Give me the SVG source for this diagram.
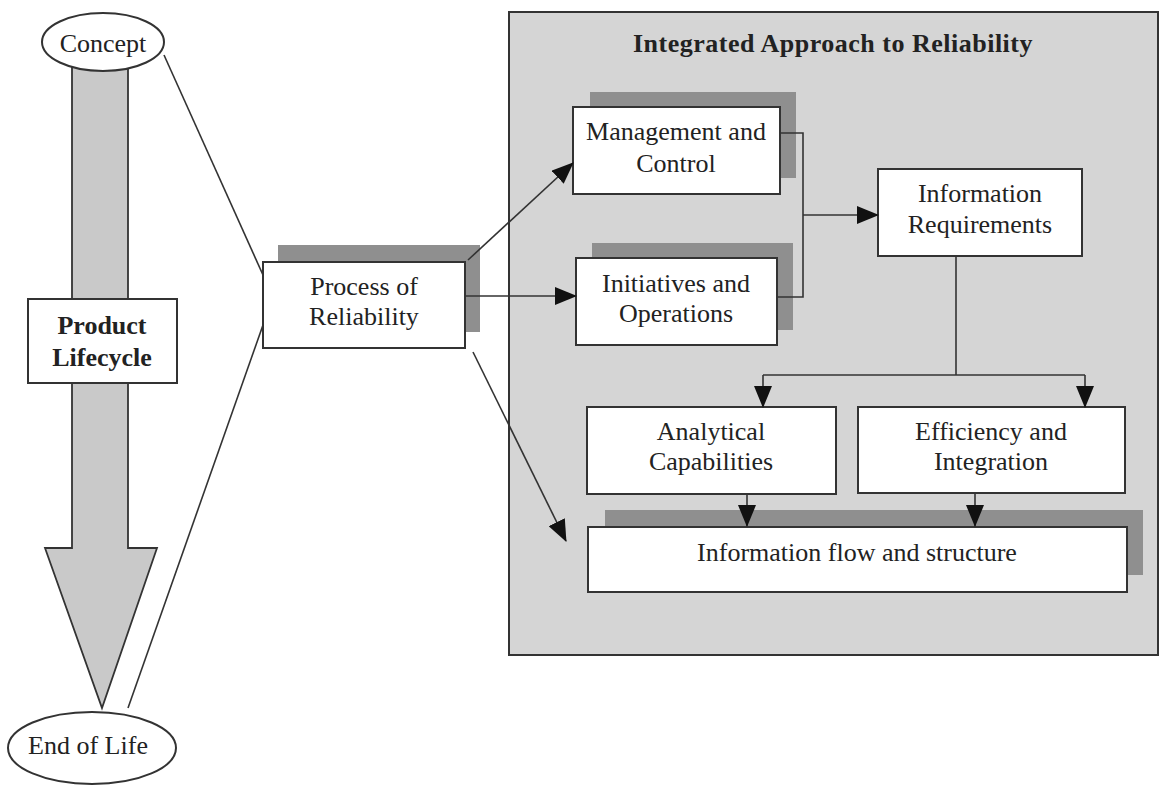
<svg xmlns="http://www.w3.org/2000/svg" width="1162" height="785" viewBox="0 0 1162 785">
<defs>
<style>
.t{font-family:"Liberation Serif","Times New Roman",serif;font-size:26px;fill:#222;text-anchor:middle}
.b{font-weight:bold}
.box{fill:#fff;stroke:#333;stroke-width:2}
.sh{fill:#8f8f8f}
.ln{fill:none;stroke:#333;stroke-width:1.6}
</style>
<marker id="ah" markerUnits="userSpaceOnUse" markerWidth="22" markerHeight="18" refX="21" refY="9" orient="auto">
<path d="M0,0 L22,9 L0,18 Z" fill="#111"/>
</marker>
</defs>
<rect width="1162" height="785" fill="#fff"/>

<g id="lifecycle-arrow">
<polygon points="72,60 128,60 128,548 157,548 102,708 45,548 72,548" fill="#c9c9c9" stroke="#333" stroke-width="1.8"/>
</g>
<g id="concept">
<ellipse cx="103" cy="42" rx="61" ry="29" class="box"/>
<text class="t" x="103" y="52">Concept</text>
</g>
<g id="end-of-life">
<ellipse cx="92" cy="748" rx="84" ry="36" class="box"/>
<text class="t" x="88" y="754">End of Life</text>
</g>
<g id="product-lifecycle">
<rect x="28" y="299" width="149" height="84" class="box"/>
<text class="t b" x="102" y="334">Product</text>
<text class="t b" x="102" y="366">Lifecycle</text>
</g>

<g id="integrated-approach">
<rect x="509" y="12" width="649" height="643" fill="#d5d5d5" stroke="#333" stroke-width="2"/>
<text class="t b" x="833" y="52" letter-spacing="0.5">Integrated Approach to Reliability</text>
</g>

<g id="process">
<rect x="278" y="245" width="202" height="87" class="sh"/>
<rect x="263" y="262" width="202" height="86" class="box"/>
<text class="t" x="364" y="295">Process of</text>
<text class="t" x="364" y="325">Reliability</text>
</g>
<g id="management">
<rect x="590" y="92" width="206" height="86" class="sh"/>
<rect x="573" y="107" width="207" height="87" class="box"/>
<text class="t" x="676" y="140">Management and</text>
<text class="t" x="676" y="172">Control</text>
</g>
<g id="initiatives">
<rect x="592" y="243" width="201" height="87" class="sh"/>
<rect x="576" y="258" width="201" height="87" class="box"/>
<text class="t" x="676" y="292">Initiatives and</text>
<text class="t" x="676" y="322">Operations</text>
</g>
<g id="info-req">
<rect x="878" y="169" width="204" height="87" class="box"/>
<text class="t" x="980" y="202">Information</text>
<text class="t" x="980" y="233">Requirements</text>
</g>
<g id="analytical">
<rect x="587" y="407" width="249" height="87" class="box"/>
<text class="t" x="711" y="440">Analytical</text>
<text class="t" x="711" y="470">Capabilities</text>
</g>
<g id="efficiency">
<rect x="858" y="407" width="267" height="86" class="box"/>
<text class="t" x="991" y="440">Efficiency and</text>
<text class="t" x="991" y="470">Integration</text>
</g>
<g id="info-flow">
<rect x="605" y="510" width="538" height="65" class="sh"/>
<rect x="588" y="527" width="539" height="65" class="box"/>
<text class="t" x="857" y="561">Information flow and structure</text>
</g>

<g id="connectors">
<line x1="164" y1="55" x2="263" y2="275" class="ln"/>
<line x1="128" y1="708" x2="263" y2="325" class="ln"/>
<line x1="468" y1="260" x2="573" y2="163" class="ln" marker-end="url(#ah)"/>
<line x1="465" y1="296" x2="576" y2="296" class="ln" marker-end="url(#ah)"/>
<line x1="473" y1="352" x2="566" y2="541" class="ln" marker-end="url(#ah)"/>
<polyline points="780,133 803,133 803,297 777,297" class="ln"/>
<line x1="803" y1="215" x2="878" y2="215" class="ln" marker-end="url(#ah)"/>
<polyline points="956,256 956,375" class="ln"/>
<polyline points="763,375 1085,375" class="ln"/>
<line x1="763" y1="375" x2="763" y2="407" class="ln" marker-end="url(#ah)"/>
<line x1="1085" y1="375" x2="1085" y2="407" class="ln" marker-end="url(#ah)"/>
<line x1="747" y1="494" x2="747" y2="526" class="ln" marker-end="url(#ah)"/>
<line x1="975" y1="493" x2="975" y2="526" class="ln" marker-end="url(#ah)"/>
</g>
</svg>
